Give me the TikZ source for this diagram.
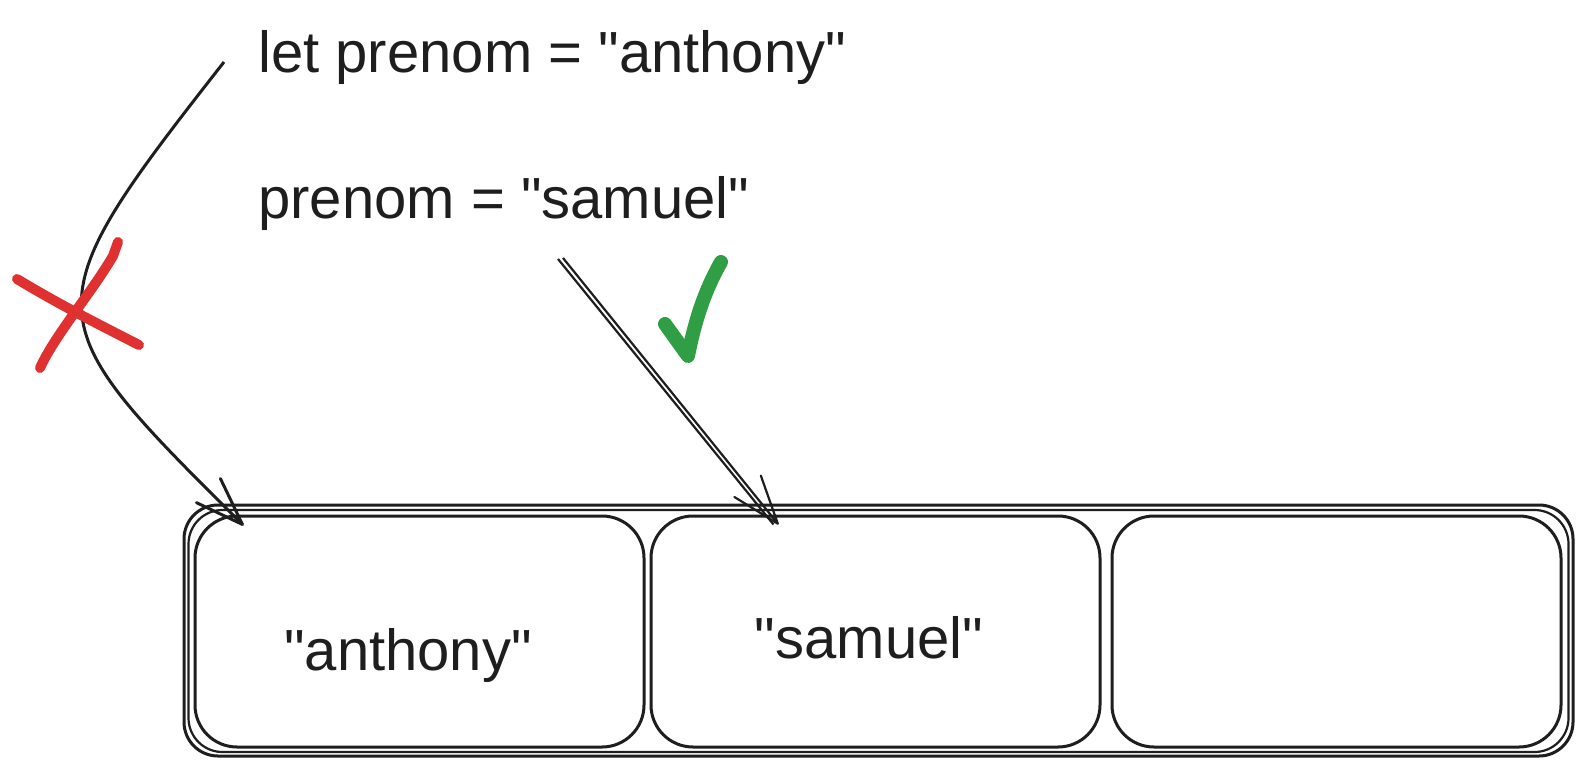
\documentclass[tikz,border=0pt]{standalone}
\usepackage{fontspec}
\setmainfont{Liberation Sans}[Ligatures=TeXOff]
\usetikzlibrary{arrows.meta}
\definecolor{inkc}{HTML}{1E1E1E}
\definecolor{redc}{HTML}{E03131}
\definecolor{greenc}{HTML}{2F9E44}
\begin{document}
\begin{tikzpicture}[x=0.5pt,y=-0.5pt,
  ink/.style={draw=inkc, line width=1.5pt},
  thinink/.style={draw=inkc, line width=1.1pt},
  cell/.style={ink, rectangle, rounded corners=21pt, minimum width=224.5pt, minimum height=115.5pt, inner sep=0pt},
  frame/.style={rectangle, rounded corners=17pt, inner sep=0pt},
  code/.style={font=\fontsize{29}{34}\selectfont, text=inkc, inner sep=0pt},
  barb/.style={-{Straight Barb[length=24pt,width=17pt,round]}},
  redstroke/.style={draw=redc, line width=5pt, line cap=round, line join=round},
  greenstroke/.style={draw=greenc, line width=7pt, line cap=round, line join=round},
]
\fill[white] (0,0) rectangle (1589,776);
\useasboundingbox (0,0) rectangle (1589,776);

% outer frame (sketchy double stroke)
\node[frame, ink, minimum width=694.5pt, minimum height=125.5pt] (outer) at (878.5,630.5) {};
\node[frame, thinink, minimum width=690pt, minimum height=121pt] (outerb) at (878.5,631) {};

% cells
\node[cell] (box1) at (419.5,631.5) {};
\node[cell] (box2) at (875.5,631.5) {};
\node[cell] (box3) at (1336.5,631.5) {};

% texts
\node[code, anchor=base west] (decl) at (258,72) {let prenom = "anthony"};
\node[code, anchor=base west] (assign) at (258,218) {prenom = "samuel"};
\node[code, anchor=base] (v1) at (408,670) {"anthony"};
\node[code, anchor=base] (v2) at (869,658) {"samuel"};

% connector from declaration to first cell
\coordinate (a1s) at (224,62);
\coordinate (a1e) at ([shift={(50,11)}]box1.north west);
\draw[ink, barb] (a1s) .. controls (28,312) and (34,317) .. (a1e);

% connector from assignment to second cell (double sketchy line)
\coordinate (a2s) at (563,258);
\coordinate (a2t) at (558,259);
\coordinate (a2e) at ([shift={(129,10)}]box2.north west);
\draw[thinink, barb] (a2s) -- (a2e);
\draw[thinink] (a2t) -- ([shift={(-5,0)}]a2e);

% red cross
\draw[redstroke] (118,242) -- (113,256) .. controls (90,295) and (55,335) .. (40,368);
\draw[redstroke] (17,279) .. controls (60,305) and (100,325) .. (139,345);

% green check
\draw[greenstroke] (665,324) -- (688,356) .. controls (695,320) and (705,290) .. (721,262);
\end{tikzpicture}
\end{document}
